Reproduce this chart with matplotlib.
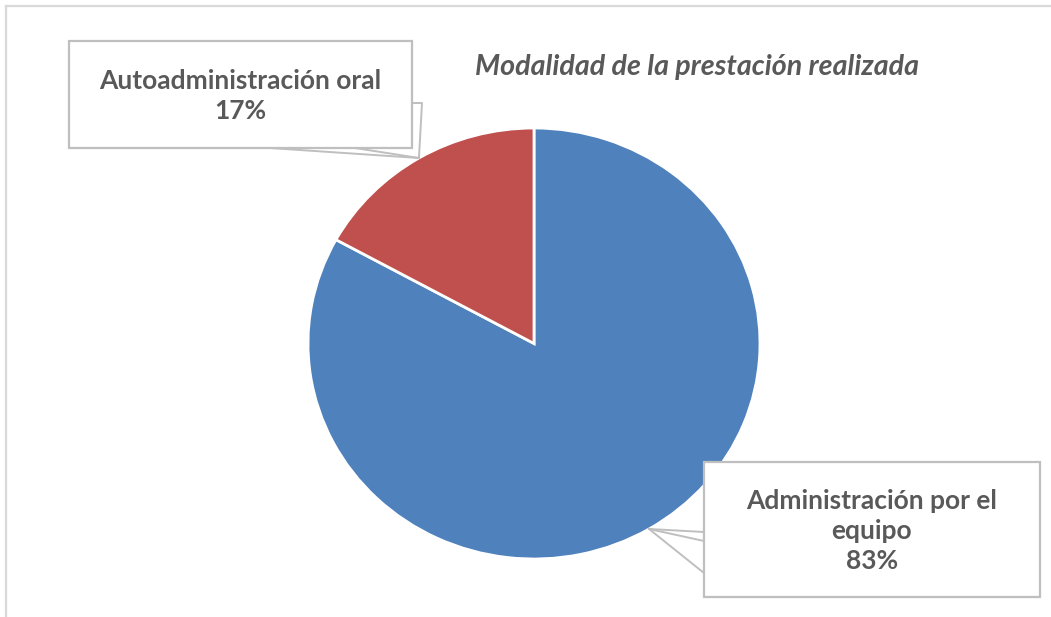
import numpy as np
import matplotlib
matplotlib.use("Agg")
import matplotlib.pyplot as plt
from matplotlib.patches import Polygon
from matplotlib.lines import Line2D

labels = ["Administración por el\nequipo", "Autoadministración oral"]
shares = [83, 17]
colors = ["#4F81BD", "#C0504D"]
title = "Modalidad de la prestación realizada"

W, H = 1051, 617
TEXT = "#595959"
EDGE = "#BFBFBF"
FONT = "Lato"


def fx(px):
    return px / W


def fy(py):
    return 1 - py / H


fig = plt.figure(figsize=(W / 100, H / 100), dpi=100)
fig.patch.set_facecolor("white")

# pie occupies a slightly stretched ellipse, like the source
ax = fig.add_axes([fx(308), fy(559), (760 - 308) / W, (559 - 128) / H])
wedges, _ = ax.pie(shares, colors=colors, startangle=90, counterclock=False,
                   wedgeprops=dict(edgecolor="white", linewidth=2))
ax.set_aspect("auto")
ax.set_xlim(-1, 1)
ax.set_ylim(-1, 1)
ax.axis("off")

# chart frame (only top and left edges visible)
fig.add_artist(Line2D([fx(6), fx(6)], [fy(6), 0], color="#D9D9D9", lw=1.6))
fig.add_artist(Line2D([fx(6), 1], [fy(6), fy(6)], color="#D9D9D9", lw=1.6))

fig.text(fx(697), fy(75), title, ha="center", va="baseline", fontsize=20.6,
         fontweight="bold", style="italic", color=TEXT, family=FONT)


def tip_of(w):
    ang = np.deg2rad((w.theta1 + w.theta2) / 2)
    disp = ax.transData.transform((np.cos(ang), np.sin(ang)))
    return fig.transFigure.inverted().transform(disp)


def callout(box, text, tip, legs, yline):
    x0, y0, x1, y1 = box
    rect = Polygon([(fx(x0), fy(y0)), (fx(x1), fy(y0)), (fx(x1), fy(y1)), (fx(x0), fy(y1))],
                   closed=True, facecolor="white", edgecolor=EDGE, lw=1.6, zorder=5)
    fig.add_artist(rect)
    for path in legs:
        xs = [fx(p[0]) for p in path] + [tip[0]]
        ys = [fy(p[1]) for p in path] + [tip[1]]
        fig.add_artist(Line2D(xs, ys, color=EDGE, lw=1.4, zorder=4))
    fig.text(fx((x0 + x1) / 2), fy(yline), text, ha="center", va="center",
             fontsize=19, fontweight="bold", color=TEXT, family=FONT,
             linespacing=1.3, zorder=6)


tip_blue = tip_of(wedges[0])
tip_red = tip_of(wedges[1])

callout((69, 41, 412, 148), f"{labels[1]}\n{shares[1]}%", tip_red,
        [[(412, 103), (422, 103)], [(270, 148)], [(355, 148)]], 96)
callout((704, 462, 1040, 597), f"{labels[0]}\n{shares[0]}%", tip_blue,
        [[(704, 532)], [(704, 541)], [(704, 573)]], 531)

fig.savefig("out.png", dpi=100, facecolor="white")
